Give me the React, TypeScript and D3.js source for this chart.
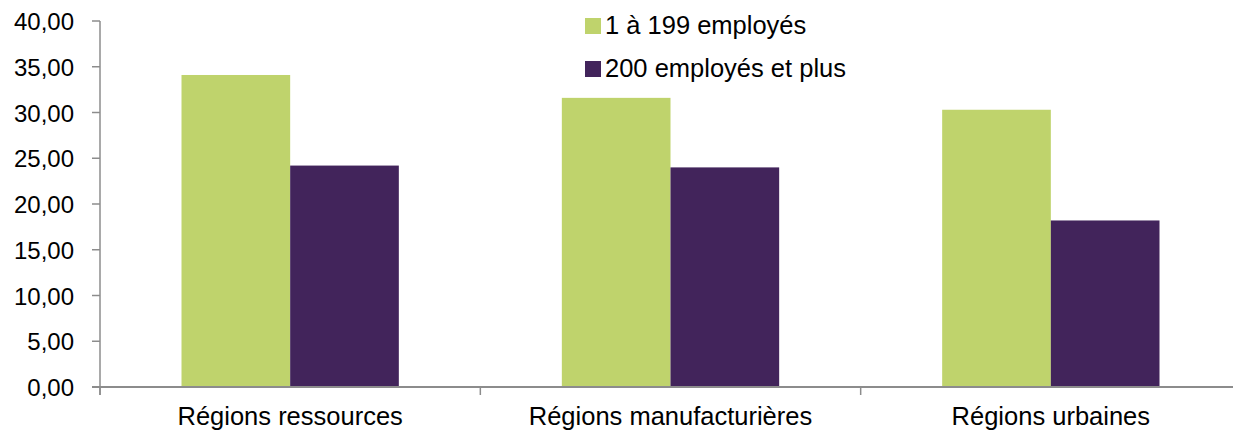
import React from "react";
import * as d3 from "d3";

const categories = ["Régions ressources", "Régions manufacturières", "Régions urbaines"];
const seriesNames = ["1 à 199 employés", "200 employés et plus"];
const small = [34.1, 31.6, 30.3];
const large = [24.2, 24.0, 18.2];
const yTicks = [0, 5, 10, 15, 20, 25, 30, 35, 40];
const colors = ["#bfd36c", "#42245b"];

const W = 1233;
const H = 431;
const left = 100;
const right = 1241;
const top = 21;
const bottom = 387;

export default function App() {
  const x = d3.scaleBand<string>().domain(categories).range([left, right]).paddingInner(0).paddingOuter(0);
  const y = d3.scaleLinear().domain([0, 40]).range([bottom, top]);
  const inner = d3.scaleBand<string>().domain(seriesNames).range([0, x.bandwidth()]).paddingInner(0).paddingOuter(0.75);
  const series = [small, large];
  const fmt = (v: number) => v.toFixed(2).replace(".", ",");
  const axisColor = "#8c8c8c";
  const font = "Liberation Sans, Arial, sans-serif";
  const boundaries = [...categories.map((c) => x(c)!), right];

  return (
    <svg width={W} height={H} style={{ position: "absolute", left: 0, top: 0 }} fontFamily={font}>
      {categories.map((c, i) =>
        series.map((s, j) => (
          <rect
            key={c + j}
            x={x(c)! + inner(seriesNames[j])!}
            y={y(s[i])}
            width={inner.bandwidth()}
            height={bottom - y(s[i])}
            fill={colors[j]}
          />
        ))
      )}
      {/* y axis */}
      <line x1={left} x2={left} y1={top} y2={bottom + 8} stroke={axisColor} strokeWidth={1.5} />
      {yTicks.map((t) => (
        <g key={t}>
          <line x1={left - 8} x2={left} y1={y(t)} y2={y(t)} stroke={axisColor} strokeWidth={1.5} />
          <text x={74} y={y(t) + 9} textAnchor="end" fontSize={24} fill="#000">
            {fmt(t)}
          </text>
        </g>
      ))}
      {/* x axis */}
      <line x1={left - 8} x2={W} y1={bottom} y2={bottom} stroke={axisColor} strokeWidth={2} />
      {boundaries.map((b, i) => (
        <line key={i} x1={b} x2={b} y1={bottom} y2={bottom + 8} stroke={axisColor} strokeWidth={1.5} />
      ))}
      {categories.map((c) => (
        <text key={c} x={x(c)! + x.bandwidth() / 2} y={425} textAnchor="middle" fontSize={25.5} fill="#000">
          {c}
        </text>
      ))}
      {/* legend */}
      {seriesNames.map((n, j) => (
        <g key={n} transform={`translate(585, ${18 + j * 43})`}>
          <rect x={0} y={0} width={16} height={16} fill={colors[j]} />
          <text x={20} y={16} fontSize={25.5} fill="#000">
            {n}
          </text>
        </g>
      ))}
    </svg>
  );
}
